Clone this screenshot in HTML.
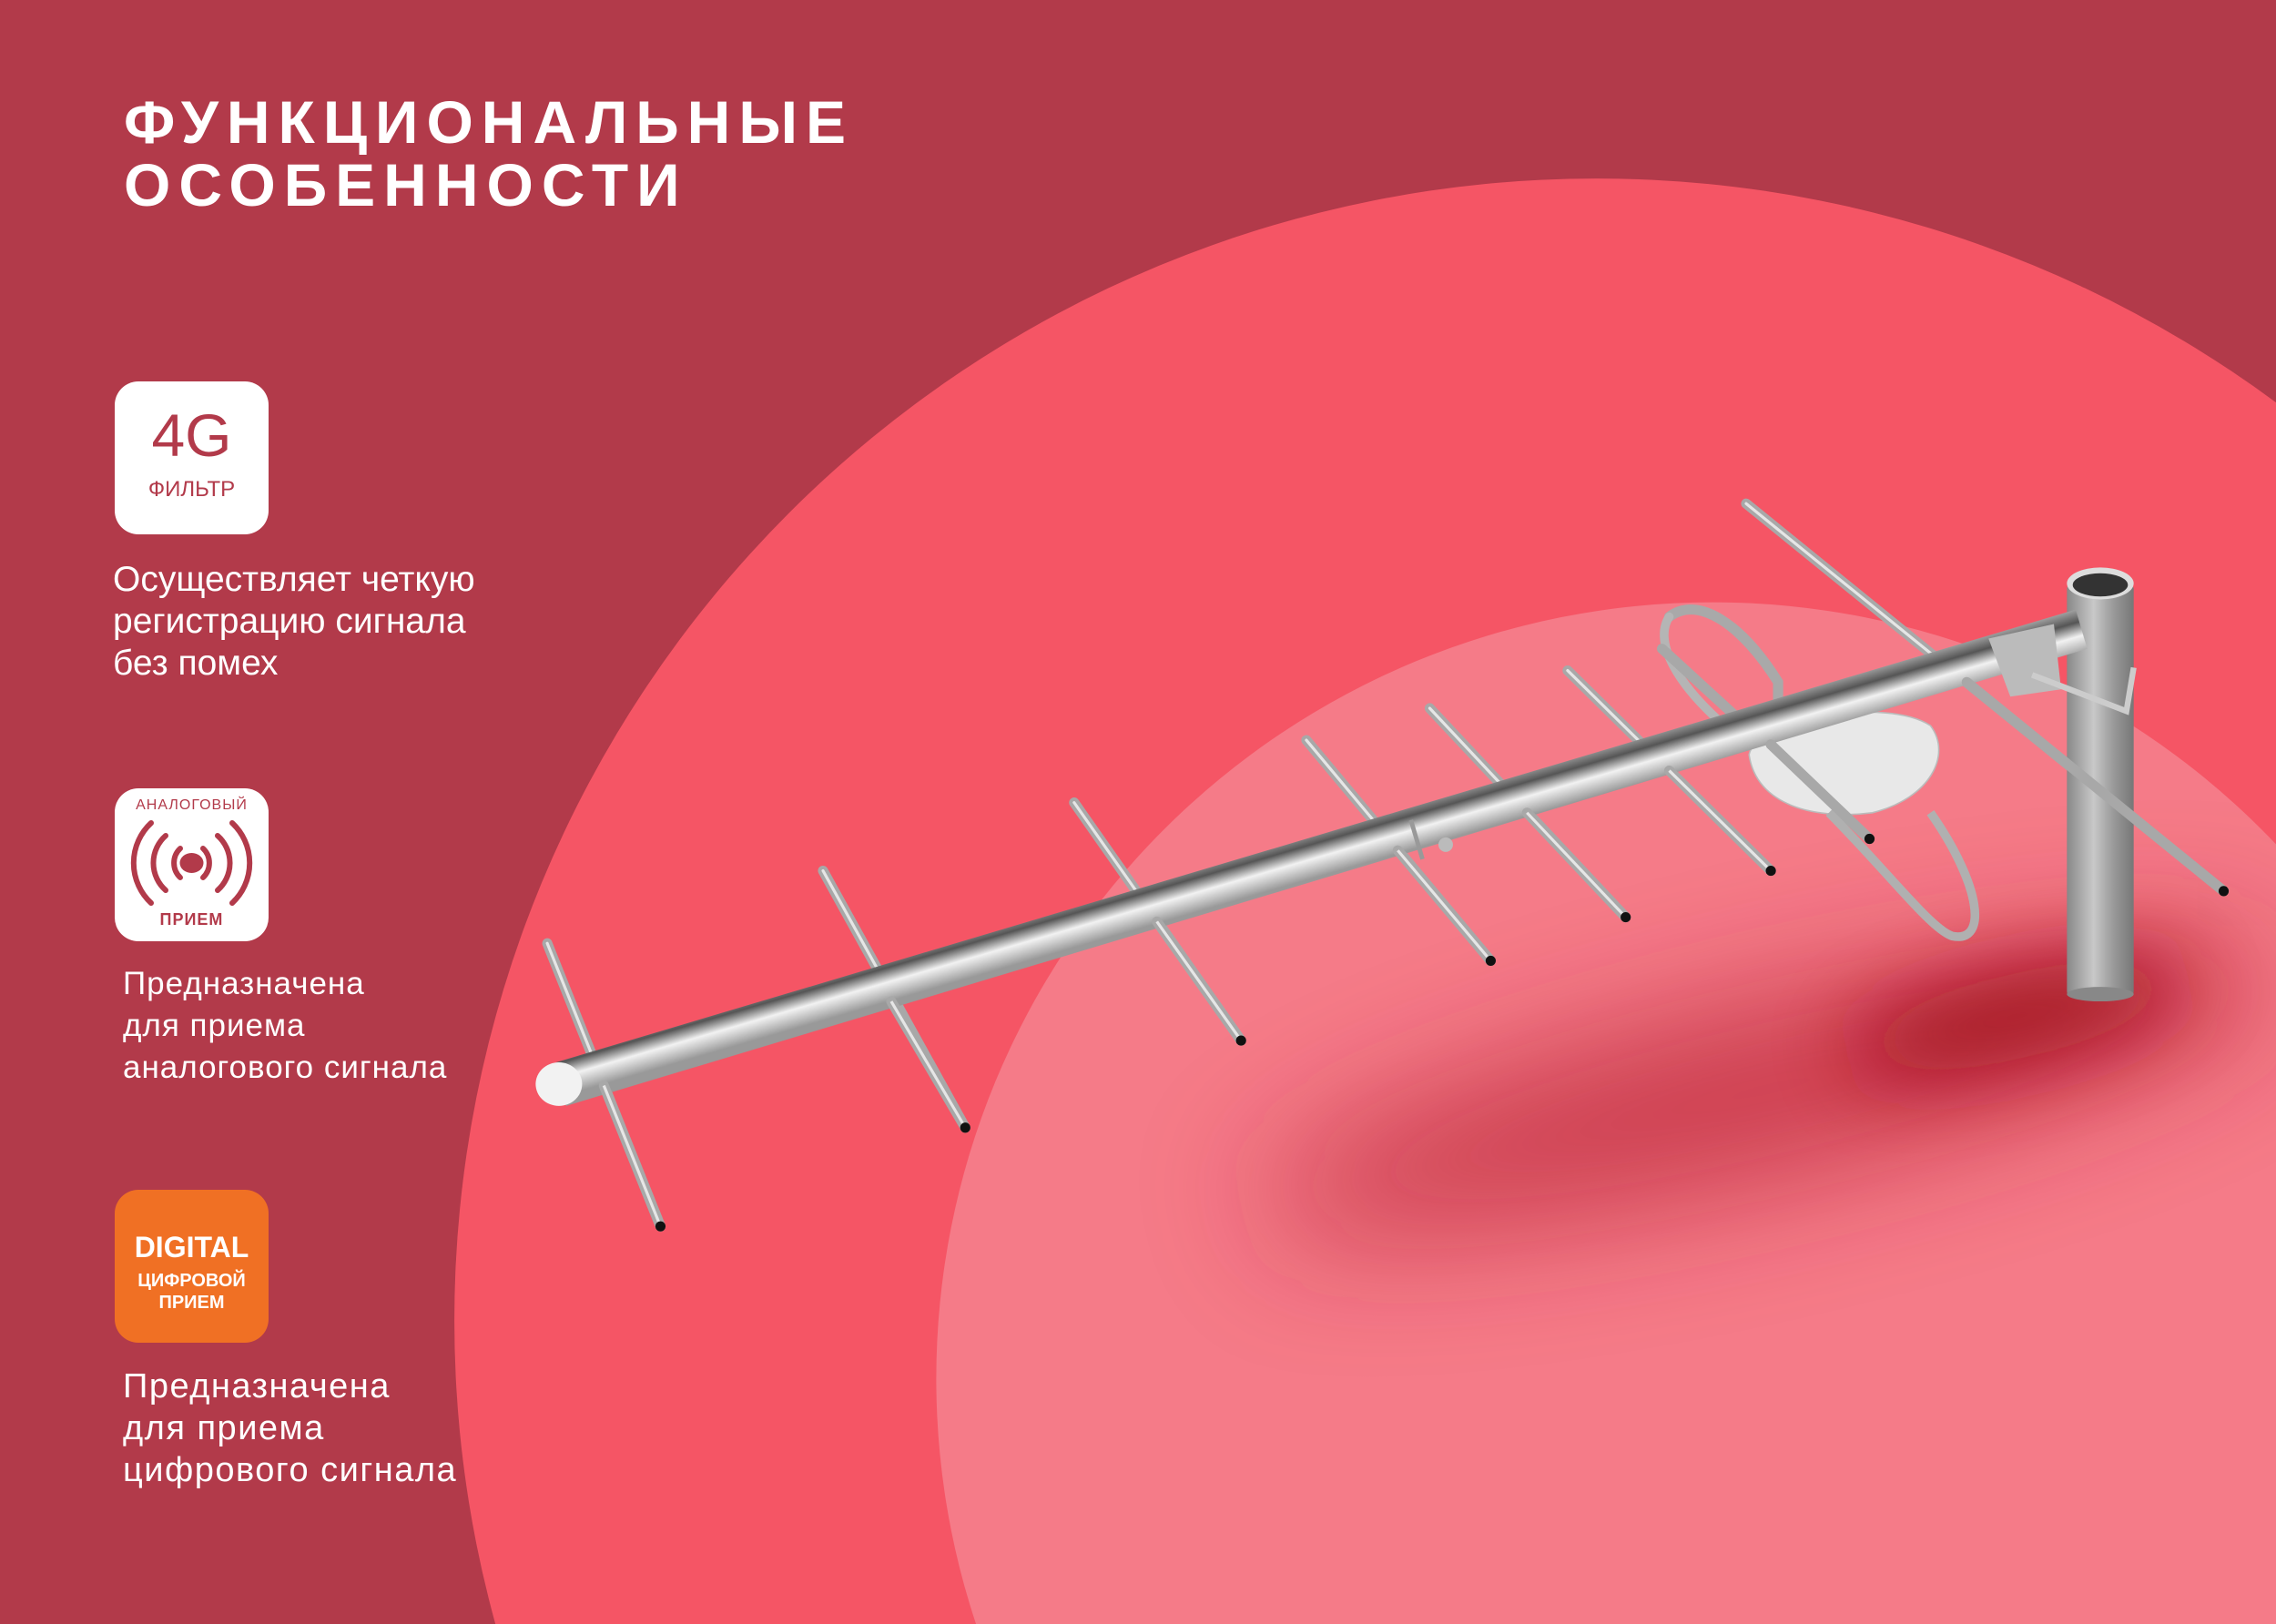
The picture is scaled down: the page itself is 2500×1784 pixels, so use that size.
<!DOCTYPE html>
<html><head><meta charset="utf-8"><style>
html,body{margin:0;padding:0;overflow:hidden}
body{width:2500px;height:1784px;position:relative;overflow:hidden;background:#B23A4A;font-family:"Liberation Sans",sans-serif}
svg.bg{position:absolute;left:0;top:0}
.t{position:absolute;color:#fff}
.title{left:136px;top:100px;font-weight:bold;font-size:66px;line-height:69px;letter-spacing:9px}
.box{position:absolute;left:126px;width:169px;height:168px;border-radius:26px;background:#fff;overflow:hidden}
.desc{position:absolute;color:#fff;font-size:39px;line-height:46px;white-space:nowrap}
</style></head><body>
<svg class="bg" width="2500" height="1784" viewBox="0 0 1568 1119">
<defs>
<clipPath id="lc"><circle cx="1180" cy="950" r="535"/></clipPath>
<filter id="bl" x="-100%" y="-200%" width="300%" height="500%"><feGaussianBlur stdDeviation="45"/></filter>
<filter id="bl2" x="-100%" y="-200%" width="300%" height="500%"><feGaussianBlur stdDeviation="28"/></filter>
<linearGradient id="boom" gradientUnits="userSpaceOnUse" x1="896" y1="574" x2="905" y2="605">
<stop offset="0" stop-color="#a8a8a8"/><stop offset="0.3" stop-color="#555"/><stop offset="0.6" stop-color="#f2f2f2"/><stop offset="1" stop-color="#999"/></linearGradient>
<linearGradient id="mast" x1="0" x2="1" y1="0" y2="0">
<stop offset="0" stop-color="#888"/><stop offset="0.4" stop-color="#c8c8c8"/><stop offset="0.7" stop-color="#999"/><stop offset="1" stop-color="#777"/></linearGradient>
</defs>
<circle cx="1100" cy="910" r="787" fill="#F55565"/>
<circle cx="1180" cy="950" r="535" fill="#F57B88"/>
<g clip-path="url(#lc)">
<ellipse cx="1220" cy="750" rx="360" ry="60" transform="rotate(-13 1220 750)" fill="#B82035" opacity="0.7" filter="url(#bl)"/>
<ellipse cx="1390" cy="700" rx="120" ry="30" transform="rotate(-13 1390 700)" fill="#9E0C1C" opacity="0.9" filter="url(#bl2)"/>
</g>
<g stroke-linecap="round">
<path d="M1150 425 C1170 410 1200 430 1225 470 L1225 500" fill="none" stroke="#a9a9a9" stroke-width="7"/>
<path d="M1150 425 C1140 440 1150 470 1200 510" fill="none" stroke="#b5b5b5" stroke-width="6"/>
<g stroke="#a8a8a8" stroke-width="7">
<line x1="377" y1="650" x2="455" y2="845"/>
<line x1="567" y1="600" x2="665" y2="777"/>
<line x1="740" y1="553" x2="855" y2="717"/>
<line x1="900" y1="510" x2="1027" y2="662"/>
<line x1="985" y1="488" x2="1120" y2="632"/>
<line x1="1080" y1="462" x2="1220" y2="600"/>
<line x1="1145" y1="447" x2="1288" y2="578"/>
<line x1="1203" y1="347" x2="1532" y2="614"/>
</g>
<g stroke="#e6e6e6" stroke-width="2">
<line x1="377" y1="650" x2="455" y2="845"/>
<line x1="567" y1="600" x2="665" y2="777"/>
<line x1="740" y1="553" x2="855" y2="717"/>
<line x1="900" y1="510" x2="1027" y2="662"/>
<line x1="985" y1="488" x2="1120" y2="632"/>
<line x1="1080" y1="462" x2="1220" y2="600"/>
<line x1="1203" y1="347" x2="1532" y2="614"/>
</g>
</g>
<rect x="1424" y="402" width="46" height="285" rx="4" fill="url(#mast)"/>
<ellipse cx="1447" cy="685" rx="23" ry="5" fill="#888"/>
<ellipse cx="1447" cy="402" rx="23" ry="11" fill="#ddd"/>
<ellipse cx="1447" cy="403" rx="19" ry="8" fill="#333"/>
<path d="M1205 520 C1210 495 1300 480 1330 500 C1345 520 1330 550 1290 560 C1250 565 1210 555 1205 520Z" fill="#e8e8e8" stroke="#bbb" stroke-width="1"/>
<path d="M1260 560 C1300 600 1330 640 1345 645 C1370 650 1365 610 1330 560" fill="none" stroke="#b0b0b0" stroke-width="6"/>
<path d="M383 732 L1430 420 L1438 447 L390 762 Z" fill="url(#boom)"/>
<ellipse cx="385" cy="747" rx="16" ry="15" fill="#f2f2f2"/>
<line x1="972" y1="565" x2="980" y2="592" stroke="#999" stroke-width="3"/>
<circle cx="996" cy="582" r="5" fill="#bbb"/>
<path d="M1370 440 L1415 430 L1420 475 L1385 480Z" fill="#bbb"/>
<path d="M1400 465 L1465 490 L1470 460" fill="none" stroke="#ccc" stroke-width="4"/>
<g stroke-linecap="round" stroke="#a8a8a8" stroke-width="7">
<line x1="416" y1="748" x2="455" y2="845"/>
<line x1="614" y1="690" x2="665" y2="777"/>
<line x1="797" y1="635" x2="855" y2="717"/>
<line x1="963" y1="586" x2="1027" y2="662"/>
<line x1="1052" y1="560" x2="1120" y2="632"/>
<line x1="1150" y1="531" x2="1220" y2="600"/>
<line x1="1220" y1="513" x2="1288" y2="578"/>
<line x1="1355" y1="470" x2="1532" y2="614"/>
</g>
<g stroke="#e6e6e6" stroke-width="2">
<line x1="416" y1="748" x2="455" y2="845"/>
<line x1="614" y1="690" x2="665" y2="777"/>
<line x1="797" y1="635" x2="855" y2="717"/>
<line x1="963" y1="586" x2="1027" y2="662"/>
<line x1="1052" y1="560" x2="1120" y2="632"/>
<line x1="1150" y1="531" x2="1220" y2="600"/>
</g>
<g fill="#111"><circle cx="455" cy="845" r="3.5"/><circle cx="665" cy="777" r="3.5"/><circle cx="855" cy="717" r="3.5"/><circle cx="1027" cy="662" r="3.5"/><circle cx="1120" cy="632" r="3.5"/><circle cx="1220" cy="600" r="3.5"/><circle cx="1288" cy="578" r="3.5"/><circle cx="1532" cy="614" r="3.5"/></g>
</svg>
<div class="t title">ФУНКЦИОНАЛЬНЫЕ<br>ОСОБЕННОСТИ</div>

<div class="box" style="top:419px">
<div style="position:absolute;left:0;width:169px;top:26px;text-align:center;color:#B23A4A;font-size:66px;line-height:66px">4G</div>
<div style="position:absolute;left:0;width:169px;top:106px;text-align:center;color:#B23A4A;font-size:24px;line-height:26px">ФИЛЬТР</div>
</div>
<div class="desc" style="left:124px;top:614px;font-size:39px">Осуществляет четкую<br>регистрацию сигнала<br>без помех</div>

<div class="box" style="top:866px">
<div style="position:absolute;left:0;width:169px;top:10px;text-align:center;color:#B23A4A;font-size:16px;letter-spacing:1px">АНАЛОГОВЫЙ</div>
<svg style="position:absolute;left:0;top:0" width="169" height="168" viewBox="0 0 169 168">
<g fill="none" stroke="#B23A4A" stroke-width="6" stroke-linecap="round">
<path d="M72 66 A22 22 0 0 0 72 98"/><path d="M97 66 A22 22 0 0 1 97 98"/>
<path d="M56 52 A40 40 0 0 0 56 112"/><path d="M113 52 A40 40 0 0 1 113 112"/>
<path d="M40 38 A60 60 0 0 0 40 126"/><path d="M129 38 A60 60 0 0 1 129 126"/>
</g>
<ellipse cx="84.5" cy="82" rx="13" ry="11" fill="#B23A4A"/>
</svg>
<div style="position:absolute;left:0;width:169px;top:134px;text-align:center;color:#B23A4A;font-size:18px;font-weight:bold;letter-spacing:1px">ПРИЕМ</div>
</div>
<div class="desc" style="left:135px;top:1058px;letter-spacing:1px;font-size:35px">Предназначена<br>для приема<br>аналогового сигнала</div>

<div class="box" style="top:1307px;background:#F07024">
<div style="position:absolute;left:0;width:169px;top:45px;text-align:center;color:#fff;font-size:32px;font-weight:bold">DIGITAL</div>
<div style="position:absolute;left:0;width:169px;top:88px;text-align:center;color:#fff;font-size:20px;font-weight:bold;line-height:24px">ЦИФРОВОЙ<br>ПРИЕМ</div>
</div>
<div class="desc" style="left:135px;top:1500px;letter-spacing:1.5px;font-size:38px">Предназначена<br>для приема<br>цифрового сигнала</div>
</body></html>
